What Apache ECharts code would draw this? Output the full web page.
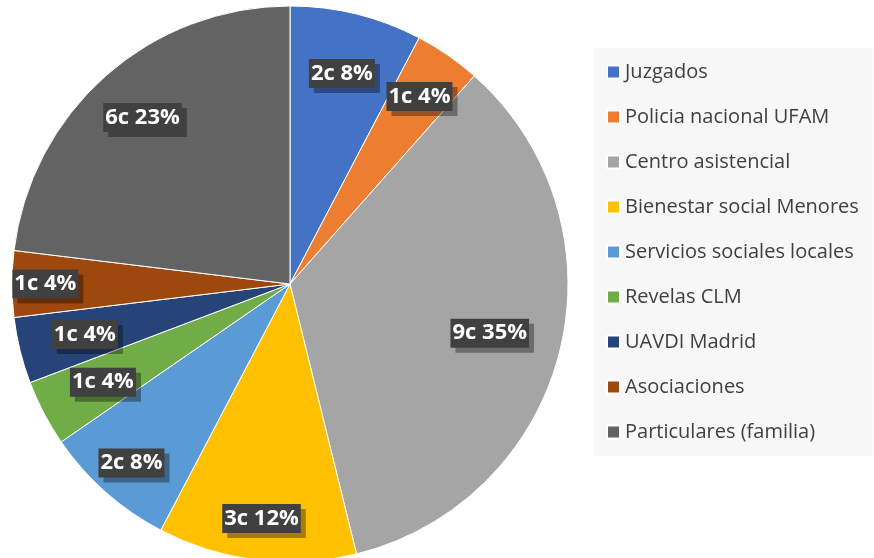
<!DOCTYPE html>
<html>
<head>
<meta charset="utf-8">
<script src="https://cdn.jsdelivr.net/npm/echarts@6/dist/echarts.min.js"></script>
<style>
  html, body { margin: 0; padding: 0; background: #fff; }
  #chart { width: 874px; height: 558px; }
</style>
</head>
<body>
<div id="chart"></div>
<script>
// categorias y numero de casos
var categorias = ['Juzgados', 'Policia nacional UFAM', 'Centro asistencial', 'Bienestar social Menores',
  'Servicios sociales locales', 'Revelas CLM', 'UAVDI Madrid', 'Asociaciones', 'Particulares (familia)'];
var casos = [2, 1, 9, 3, 2, 1, 1, 1, 6];
var colores = ['#4472C4', '#ED7D31', '#A5A5A5', '#FFC000', '#5B9BD5', '#70AD47', '#264478', '#9E480E', '#636363'];

var cx = 290, cy = 284, R = 278;
// distancia de cada etiqueta al centro (fraccion del radio), como en Excel
var distEtiqueta = [0.78, 0.82, 0.74, 0.85, 0.86, 0.76, 0.76, 0.88, 0.8];

var chartDom = document.getElementById('chart');
var myChart = echarts.init(chartDom);
var option;

option = {
  animation: false,
  color: colores,
  legend: {
    orient: 'vertical',
    left: 594,
    top: 48,
    padding: [14, 14, 14, 12],
    backgroundColor: '#f7f7f7',
    itemWidth: 13,
    itemHeight: 13,
    itemGap: 25,
    icon: 'rect',
    textStyle: {
      fontFamily: 'Open Sans',
      fontSize: 20,
      lineHeight: 20,
      color: '#404040'
    },
    data: categorias
  },
  series: [
    {
      type: 'pie',
      center: [cx, cy],
      radius: R,
      startAngle: 90,
      clockwise: true,
      itemStyle: {
        borderColor: '#fff',
        borderWidth: 1
      },
      label: {
        position: 'inside',
        formatter: function (p) {
          return p.value + 'c ' + Math.round(p.percent) + '%';
        },
        color: '#fff',
        fontFamily: 'Open Sans',
        fontWeight: 'bold',
        fontSize: 22,
        backgroundColor: '#404040',
        padding: [4, 2, 3, 2],
        shadowColor: 'rgba(0,0,0,0.35)',
        shadowOffsetX: 5,
        shadowOffsetY: 5
      },
      labelLine: { show: false },
      // mover etiquetas hacia el borde
      labelLayout: function (params) {
        var r = params.labelRect;
        var lx = r.x + r.width / 2;
        var ly = r.y + r.height / 2;
        var d = Math.sqrt((lx - cx) * (lx - cx) + (ly - cy) * (ly - cy)) || 1;
        var k = distEtiqueta[params.dataIndex] * R / d;
        return {
          x: cx + (lx - cx) * k,
          y: cy + (ly - cy) * k
        };
      },
      data: categorias.map(function (n, i) {
        return { name: n, value: casos[i] };
      })
    }
  ]
};

option && myChart.setOption(option);
</script>
</body>
</html>
